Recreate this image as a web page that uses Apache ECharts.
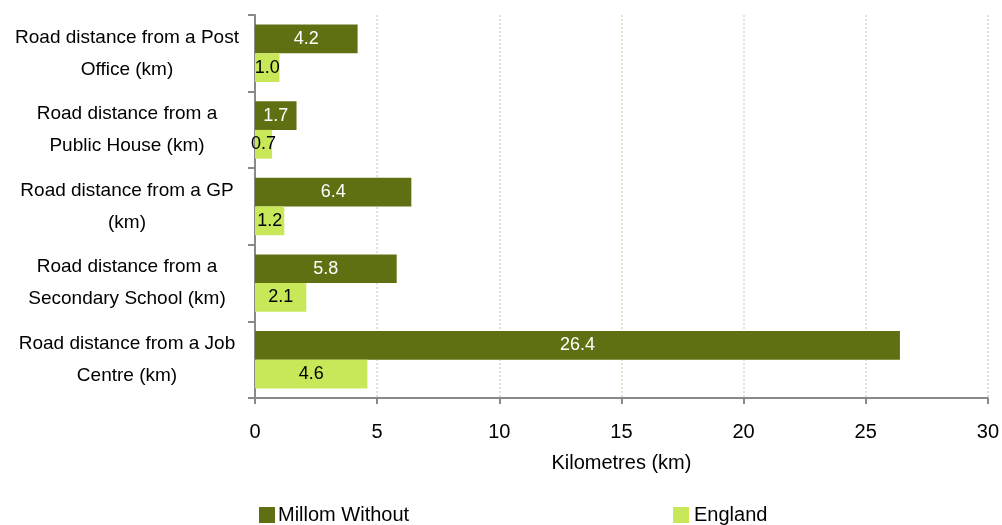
<!DOCTYPE html>
<html>
<head>
<meta charset="utf-8">
<script src="https://cdn.jsdelivr.net/npm/echarts@6/dist/echarts.min.js"></script>
<style>
  html, body { margin: 0; padding: 0; background: #fff; }
  #chart { width: 1002px; height: 525px; }
</style>
</head>
<body>
<div id="chart"></div>
<script>
var categories = [
  'Road distance from a Post\nOffice (km)',
  'Road distance from a\nPublic House (km)',
  'Road distance from a GP\n(km)',
  'Road distance from a\nSecondary School (km)',
  'Road distance from a Job\nCentre (km)'
];
var millom = [4.2, 1.7, 6.4, 5.8, 26.4];
var england = [1.0, 0.7, 1.2, 2.1, 4.6];
var xTicks = [0, 5, 10, 15, 20, 25, 30];

var myChart = echarts.init(document.getElementById('chart'));

var font = 'Liberation Sans, Arial, sans-serif';

function oneDecimal(p) {
  return p.value.toFixed(1);
}

var option = {
  animation: false,
  textStyle: { fontFamily: font },
  grid: { left: 255, right: 14, top: 15, bottom: 127 },
  legend: [
    {
      top: 505,
      left: 259,
      padding: 0,
      itemWidth: 16,
      itemHeight: 16,
      itemGap: 0,
      icon: 'rect',
      textStyle: { fontSize: 20, color: '#000', fontFamily: font, padding: [0, 0, 0, -2] },
      data: ['Millom Without']
    },
    {
      top: 505,
      left: 673,
      padding: 0,
      itemWidth: 16,
      itemHeight: 16,
      itemGap: 0,
      icon: 'rect',
      textStyle: { fontSize: 20, color: '#000', fontFamily: font },
      data: ['England']
    }
  ],
  xAxis: {
    type: 'value',
    min: xTicks[0],
    max: xTicks[xTicks.length - 1],
    interval: 5,
    name: 'Kilometres (km)',
    nameLocation: 'middle',
    nameGap: 55,
    nameTextStyle: { fontSize: 20, color: '#000' },
    axisLine: { show: true, lineStyle: { color: '#898989', width: 2 } },
    axisTick: { show: true, length: 6, lineStyle: { color: '#898989', width: 2 } },
    axisLabel: { fontSize: 20, color: '#000', margin: 24 },
    splitLine: { show: true, lineStyle: { color: '#e0d8c2', type: [2, 2], width: 1.5 } }
  },
  yAxis: {
    type: 'category',
    inverse: true,
    data: categories,
    axisLine: { show: true, lineStyle: { color: '#898989', width: 2 } },
    axisTick: { show: true, length: 7, lineStyle: { color: '#898989', width: 2 } },
    axisLabel: {
      fontSize: 19,
      color: '#000',
      align: 'center',
      margin: 128,
      lineHeight: 32
    }
  },
  series: [
    {
      name: 'Millom Without',
      type: 'bar',
      data: millom,
      barGap: '0%',
      barCategoryGap: '25%',
      itemStyle: { color: '#5f7012' },
      label: { show: true, position: 'inside', color: '#fff', fontSize: 18, formatter: oneDecimal }
    },
    {
      name: 'England',
      type: 'bar',
      data: england,
      itemStyle: { color: '#c8e85a' },
      label: { show: true, position: 'inside', color: '#000', fontSize: 18, formatter: oneDecimal }
    }
  ]
};

myChart.setOption(option);
</script>
</body>
</html>
